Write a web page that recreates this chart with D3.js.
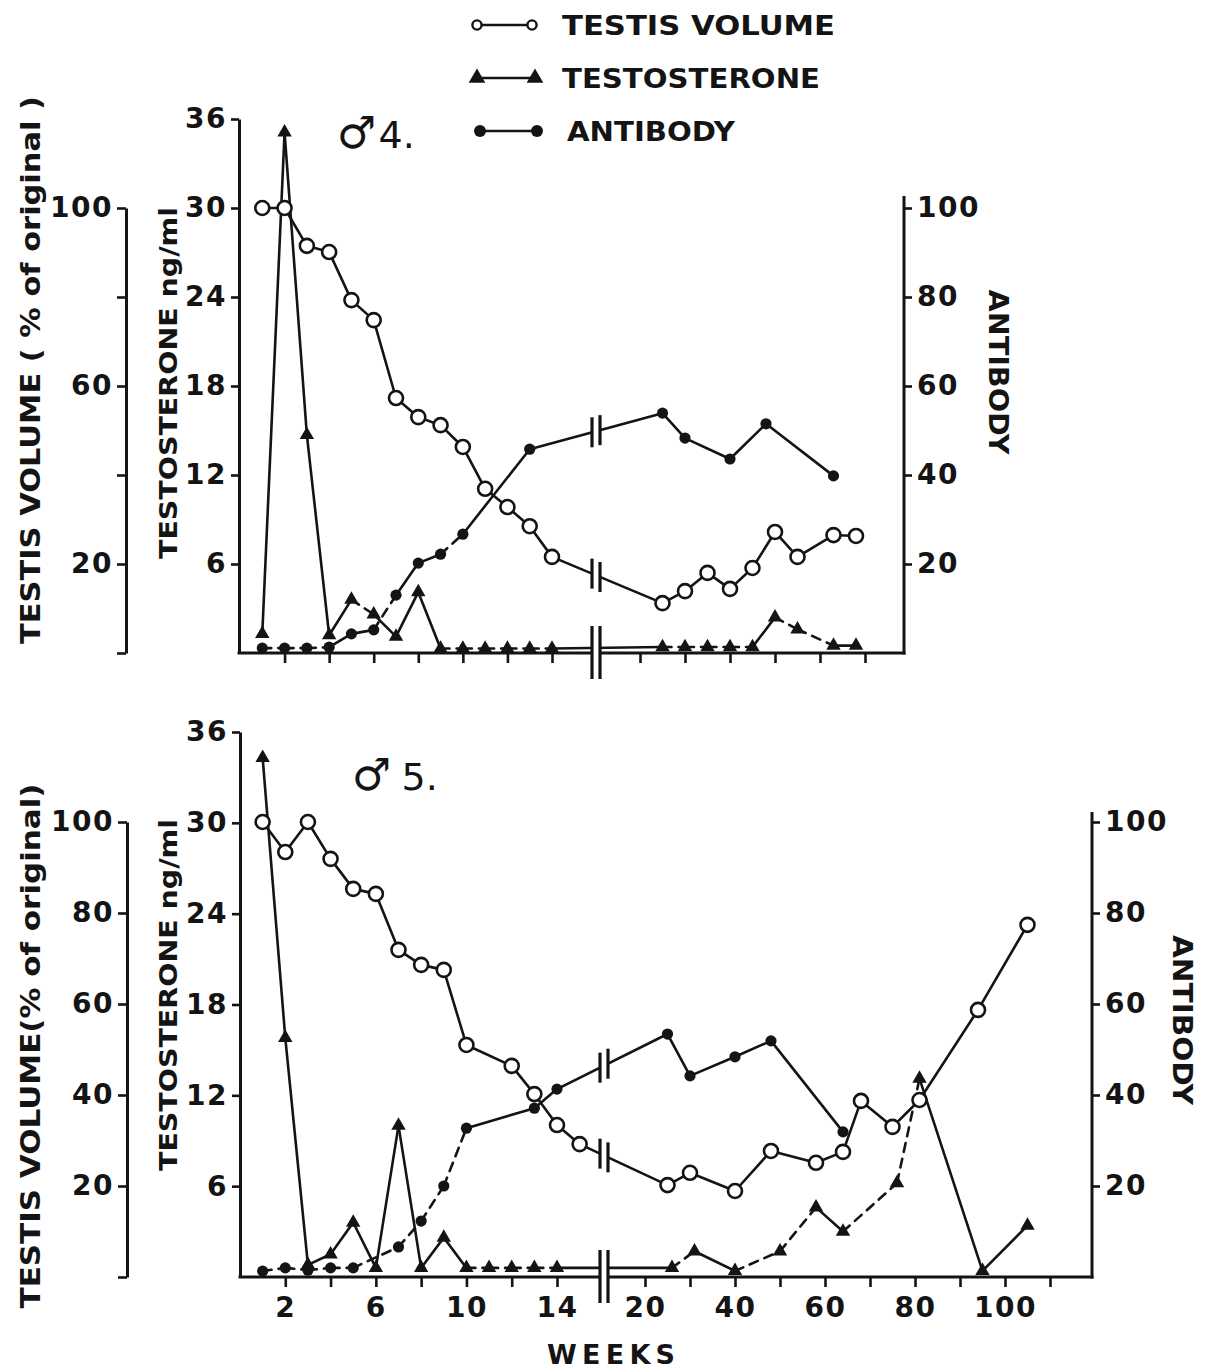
<!DOCTYPE html>
<html>
<head>
<meta charset="utf-8">
<script src="https://cdn.jsdelivr.net/npm/d3@7"></script>
<style>
  body { margin: 0; background: #fff; }
  svg { display: block; }
</style>
</head>
<body>
<svg id="chart" width="1209" height="1371"></svg>
<script>
// ---------- data: animal ♂4 ----------
const weeksTestis4 = [1,2,3,4,5,6,7,8,9,10,11,12,13,14, 25,30,35,40,45,50,55,63,68];
const testis4      = [100,100,91.5,90.1,79.3,74.8,57.3,53,51.2,46.3,36.9,32.8,28.5,21.6, 11.2,13.9,18,14.4,19.1,27.2,21.6,26.5,26.3];
const weeksTesto4  = [1,2,3,4,5,6,7,8,9,10,11,12,13,14, 25,30,35,40,45,50,55,63,68];
const testo4       = [1.3,35.1,14.7,1.2,3.6,2.6,1.1,4.1,0.3,0.3,0.3,0.3,0.3,0.3, 0.4,0.4,0.4,0.4,0.4,2.4,1.6,0.5,0.5];
const weeksAb4     = [1,2,3,4,5,6,7,8,9,10,13, 25,30,40,48,63];
const antibody4    = [1.1,1.1,1.1,1.3,4.3,5.2,13,20.2,22.2,26.7,45.8, 53.9,48.3,43.6,51.5,39.8];

// ---------- data: animal ♂5 ----------
const weeksTestis5 = [1,2,3,4,5,6,7,8,9,10,12,13,14,15, 25,30,40,48,58,64,68,75,81,94,105];
const testis5      = [100,93.4,100,91.9,85.3,84.2,71.9,68.6,67.5,51,46.4,40.2,33.4,29.2, 20.2,22.9,18.9,27.7,25.1,27.5,38.7,33,38.9,58.7,77.4];
const weeksTesto5  = [1,2,3,4,5,6,7,8,9,10,11,12,13,14, 26,31,40,50,58,64,76,81,95,105];
const testo5       = [34.3,15.8,0.8,1.5,3.6,0.6,10,0.6,2.6,0.6,0.6,0.6,0.6,0.6, 0.6,1.7,0.4,1.7,4.6,3,6.2,13.1,0.4,3.4];
const weeksAb5     = [1,2,3,4,5,7,8,9,10,13,14, 25,30,40,48,64];
const antibody5    = [1.3,2,1.5,2,2,6.6,12.3,20,32.7,37.1,41.3, 53.4,44.2,48.4,51.9,31.9];

// ---------- axis ticks and labels ----------
const testisTicks   = [0,20,40,60,80,100];
const testisLabels4 = [100,60,20];
const testisLabels5 = [100,80,60,40,20];
const testoTicks    = [6,12,18,24,30,36];
const antibodyTicks = [20,40,60,80,100];
const weekTicksEarly = [2,4,6,8,10,12,14];
const weekTicksLate4 = [20,30,40,50,60,70];
const weekTicksLate5 = [20,30,40,50,60,70,80,90,100,110];
const weekLabels     = [2,6,10,14,20,40,60,80,100];

// segments drawn dashed, keyed by the week the segment starts at
const dashTesto4 = [5,9,10,11,12,13,25,30,35,40,50,55];
const dashAb4    = [1,2,3,6,9];
const dashTesto5 = [10,11,12,13,26,40,50,64,76];
const dashAb5    = [1,2,3,4,5,7,8,9];

const INK = "#141414";
const FONT = "'DejaVu Sans', 'Liberation Sans', sans-serif";
const svg = d3.select("#chart");

function styleAxis(g, labelSize) {
  g.attr("font-family", FONT).attr("font-size", labelSize).attr("font-weight", "bold");
  g.selectAll(".domain").attr("stroke", INK).attr("stroke-width", 3);
  g.selectAll(".tick line").attr("stroke", INK).attr("stroke-width", 2.6);
  g.selectAll(".tick text").attr("fill", INK).attr("letter-spacing", 1.5);
}

function drawPanel(cfg) {
  const g = svg.append("g");
  const yT = d3.scaleLinear().domain([0, 100]).range([cfg.y0, cfg.y100]);
  const yS = d3.scaleLinear().domain([0, 36]).range([cfg.y0, cfg.y36]);
  const yA = d3.scaleLinear().domain([0, 100]).range([cfg.y0, cfg.y100]);
  const xPre = d3.scaleLinear().domain([0, 14]).range(cfg.preRange);
  const xPost = d3.scaleLinear().domain(cfg.postDomain).range(cfg.postRange);
  const x = w => (w < 18 ? xPre(w) : xPost(w));
  const [b1, b2] = cfg.bars;

  // clip that leaves a gap for the broken time axis
  const clipId = "gap" + cfg.name;
  const cp = svg.append("defs").append("clipPath").attr("id", clipId);
  cp.append("rect").attr("x", 0).attr("y", 0).attr("width", b1).attr("height", 1371);
  cp.append("rect").attr("x", b2).attr("y", 0).attr("width", 1209 - b2).attr("height", 1371);

  // ---- left: testis volume axis
  const aT = g.append("g").attr("transform", `translate(${cfg.testisX},0)`)
    .call(d3.axisLeft(yT).tickValues(testisTicks).tickSize(9).tickSizeOuter(0).tickPadding(4)
      .tickFormat(d => cfg.testisLabels.includes(d) ? d : ""));
  styleAxis(aT, 28);

  // ---- left: testosterone axis
  const aS = g.append("g").attr("transform", `translate(${cfg.testoX},0)`)
    .call(d3.axisLeft(yS).tickValues(testoTicks).tickSize(8).tickSizeOuter(0).tickPadding(4));
  styleAxis(aS, 28);

  // ---- right: antibody axis
  const aA = g.append("g").attr("transform", `translate(${cfg.abX},0)`)
    .call(d3.axisRight(yA).tickValues(antibodyTicks).tickSize(8).tickSizeOuter(0).tickPadding(5));
  styleAxis(aA, 28);
  aA.select(".domain").remove();
  aA.append("line").attr("x1", 0).attr("x2", 0).attr("y1", cfg.y0 + 1.5).attr("y2", cfg.abTop)
    .attr("stroke", INK).attr("stroke-width", 3);

  // ---- time axis, two pieces on either side of the break
  const fmt = d => (cfg.xLabels && weekLabels.includes(d)) ? d : "";
  const ax1 = g.append("g").attr("transform", `translate(0,${cfg.y0})`)
    .call(d3.axisBottom(xPre).tickValues(weekTicksEarly).tickSize(10).tickSizeOuter(0).tickPadding(10).tickFormat(fmt));
  const ax2 = g.append("g").attr("transform", `translate(0,${cfg.y0})`)
    .call(d3.axisBottom(xPost).tickValues(cfg.lateTicks).tickSize(10).tickSizeOuter(0).tickPadding(10).tickFormat(fmt));
  [ax1, ax2].forEach(a => { styleAxis(a, 28); a.select(".domain").remove(); });
  g.append("line").attr("x1", cfg.testoX - 1.5).attr("x2", b1).attr("y1", cfg.y0).attr("y2", cfg.y0)
    .attr("stroke", INK).attr("stroke-width", 3);
  g.append("line").attr("x1", b2).attr("x2", cfg.abX + 1.5).attr("y1", cfg.y0).attr("y2", cfg.y0)
    .attr("stroke", INK).attr("stroke-width", 3);
  [b1, b2].forEach(bx => g.append("line").attr("x1", bx).attr("x2", bx)
    .attr("y1", cfg.y0 - 27).attr("y2", cfg.y0 + 26).attr("stroke", INK).attr("stroke-width", 3.2));

  // ---- series lines
  function drawLine(weeks, vals, yScale, dashStarts, nearAxis) {
    const pts = weeks.map((w, i) => [x(w), yScale(vals[i]), w]);
    const lg = g.append("g").attr("clip-path", `url(#${clipId})`);
    for (let i = 0; i < pts.length - 1; i++) {
      lg.append("line")
        .attr("x1", pts[i][0]).attr("y1", pts[i][1])
        .attr("x2", pts[i + 1][0]).attr("y2", pts[i + 1][1])
        .attr("stroke", INK).attr("stroke-width", 2.6).attr("stroke-linecap", "round")
        .attr("stroke-dasharray", dashStarts.includes(pts[i][2]) ? "9,7" : null);
      // break marks where the line crosses the gap
      if (pts[i][2] < 18 && pts[i + 1][2] > 18 && !nearAxis) {
        const interp = d3.scaleLinear().domain([pts[i][0], pts[i + 1][0]]).range([pts[i][1], pts[i + 1][1]]);
        [b1, b2].forEach(bx => g.append("line").attr("x1", bx).attr("x2", bx)
          .attr("y1", interp(bx) - 15).attr("y2", interp(bx) + 15)
          .attr("stroke", INK).attr("stroke-width", 3.2));
      }
    }
    return pts;
  }
  const pS = drawLine(cfg.weeksTesto, cfg.testo, yS, cfg.dashTesto, true);
  const pA = drawLine(cfg.weeksAb, cfg.antibody, yA, cfg.dashAb, false);
  const pT = drawLine(cfg.weeksTestis, cfg.testis, yT, [], false);

  // ---- markers
  const tri = d3.symbol().type(d3.symbolTriangle).size(90);
  g.append("g").selectAll("path").data(pS).join("path")
    .attr("d", tri).attr("transform", d => `translate(${d[0]},${d[1]})`).attr("fill", INK);
  g.append("g").selectAll("circle").data(pA).join("circle")
    .attr("cx", d => d[0]).attr("cy", d => d[1]).attr("r", 5.6).attr("fill", INK);
  g.append("g").selectAll("circle").data(pT).join("circle")
    .attr("cx", d => d[0]).attr("cy", d => d[1]).attr("r", 7)
    .attr("fill", "#fff").attr("stroke", INK).attr("stroke-width", 2.6);

  // ---- axis titles
  const title = (tx, ty, rot, txt, len, size) => g.append("text")
    .attr("transform", `translate(${tx},${ty}) rotate(${rot})`)
    .attr("text-anchor", "middle").attr("font-family", FONT).attr("font-weight", "bold")
    .attr("font-size", size).attr("fill", INK)
    .attr("textLength", len).attr("lengthAdjust", "spacingAndGlyphs").text(txt);
  title(cfg.tTitle[0], cfg.tTitle[1], -90, cfg.tTitleText, cfg.tTitle[2], 26);
  title(cfg.sTitle[0], cfg.sTitle[1], -90, "TESTOSTERONE  ng/ml", cfg.sTitle[2], 25);
  title(cfg.aTitle[0], cfg.aTitle[1], 90, "ANTIBODY", cfg.aTitle[2], 26);

  // ---- animal label
  const lab = g.append("text").attr("x", cfg.label[0]).attr("y", cfg.label[1])
    .attr("font-family", FONT).attr("fill", INK);
  lab.append("tspan").attr("font-size", 44).attr("font-weight", "bold").text("♂");
  lab.append("tspan").attr("font-size", 38).attr("dx", cfg.label[2]).text(cfg.name + ".");
}

drawPanel({
  name: "4",
  y0: 653, y100: 208, y36: 119, abTop: 196,
  testisX: 126, testoX: 239, abX: 904,
  preRange: [240, 552], postDomain: [20, 70], postRange: [640, 865], bars: [592, 600],
  lateTicks: weekTicksLate4, xLabels: false,
  testisLabels: testisLabels4,
  weeksTestis: weeksTestis4, testis: testis4,
  weeksTesto: weeksTesto4, testo: testo4, dashTesto: dashTesto4,
  weeksAb: weeksAb4, antibody: antibody4, dashAb: dashAb4,
  tTitle: [40, 370, 548], tTitleText: "TESTIS VOLUME ( % of original )",
  sTitle: [177, 383, 352], aTitle: [989, 372, 165],
  label: [337, 148, 2]
});

drawPanel({
  name: "5",
  y0: 1277, y100: 822, y36: 732, abTop: 812,
  testisX: 127, testoX: 240, abX: 1092,
  preRange: [240, 557], postDomain: [20, 110], postRange: [645, 1050], bars: [600, 608],
  lateTicks: weekTicksLate5, xLabels: true,
  testisLabels: testisLabels5,
  weeksTestis: weeksTestis5, testis: testis5,
  weeksTesto: weeksTesto5, testo: testo5, dashTesto: dashTesto5,
  weeksAb: weeksAb5, antibody: antibody5, dashAb: dashAb5,
  tTitle: [40, 1046, 525], tTitleText: "TESTIS VOLUME(% of original)",
  sTitle: [177, 995, 352], aTitle: [1173, 1020, 170],
  label: [352, 790, 10]
});

// ---- x title
svg.append("text").attr("x", 611).attr("y", 1364).attr("text-anchor", "middle")
  .attr("font-family", FONT).attr("font-weight", "bold").attr("font-size", 27)
  .attr("fill", INK).attr("textLength", 128).attr("lengthAdjust", "spacing").text("WEEKS");

// ---- legend
const legend = svg.append("g");
const legendRows = [
  { y: 25, text: "TESTIS VOLUME", len: 273, tx: 562 },
  { y: 78, text: "TESTOSTERONE", len: 258, tx: 562 },
  { y: 131, text: "ANTIBODY", len: 168, tx: 567 }
];
legendRows.forEach((r, i) => {
  const xa = i === 2 ? 480 : 477, xb = i === 2 ? 537 : (i === 1 ? 535 : 532);
  legend.append("line").attr("x1", xa).attr("x2", xb).attr("y1", r.y).attr("y2", r.y)
    .attr("stroke", INK).attr("stroke-width", 2.4);
  [xa, xb].forEach(px => {
    if (i === 0) legend.append("circle").attr("cx", px).attr("cy", r.y).attr("r", 4.6)
      .attr("fill", "#fff").attr("stroke", INK).attr("stroke-width", 2.4);
    if (i === 1) legend.append("path").attr("d", d3.symbol().type(d3.symbolTriangle).size(120)())
      .attr("transform", `translate(${px},${r.y})`).attr("fill", INK);
    if (i === 2) legend.append("circle").attr("cx", px).attr("cy", r.y).attr("r", 6).attr("fill", INK);
  });
  legend.append("text").attr("x", r.tx).attr("y", r.y + 10)
    .attr("font-family", FONT).attr("font-weight", "bold").attr("font-size", 27)
    .attr("fill", INK).attr("textLength", r.len).attr("lengthAdjust", "spacingAndGlyphs").text(r.text);
});
</script>
</body>
</html>
